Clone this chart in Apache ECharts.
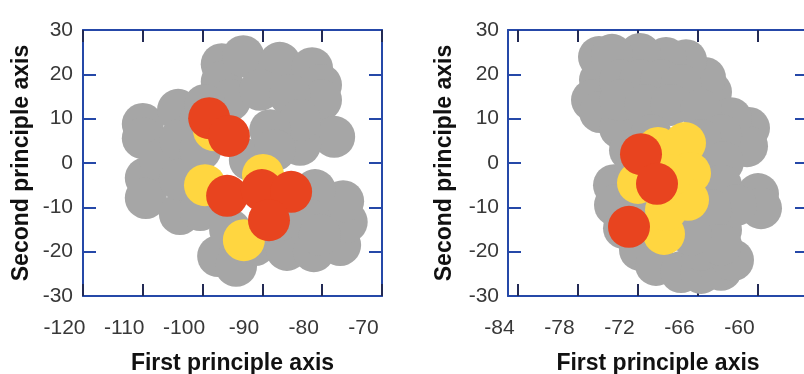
<!DOCTYPE html>
<html>
<head>
<meta charset="utf-8">
<script src="https://cdn.jsdelivr.net/npm/echarts@6/dist/echarts.min.js"></script>
<style>
  html, body { margin: 0; padding: 0; background: #fff; }
  #chart { width: 804px; height: 374px; }
</style>
</head>
<body>
<div id="chart"></div>
<script>
// left panel: cluster of gray, yellow and red circles
var leftGray = [
    [-110.0, 8.8], [-110.0, 5.6], [-104.1, 12.0], [-96.8, 22.3], [-96.8, 18.3], [-93.2, 24.1],
    [-87.1, 22.6], [-81.7, 21.4], [-80.2, 17.6], [-80.2, 14.2], [-78.0, 5.9], [-109.5, -3.4],
    [-109.5, -7.9], [-103.8, -11.5], [-97.4, -21.0], [-94.4, -23.2], [-91.2, -18.5], [-85.9, -19.6],
    [-81.4, -19.9], [-77.0, -18.5], [-75.9, -13.3], [-76.5, -8.6], [-81.2, -6.1], [-83.7, 4.1],
    [-107.1, 0.7], [-103.8, 5.2], [-103.8, -3.8], [-100.4, 9.7], [-100.4, 2.9], [-100.4, -10.6],
    [-95.4, 14.2], [-99.6, 13.1], [-90.4, 16.5], [-85.4, 15.3], [-83.7, 9.7], [-88.7, 7.4],
    [-92.1, 0.7], [-87.9, 2.9], [-95.4, -15.1], [-87.1, -12.9], [-82.0, -12.9], [-80.4, -16.2]
];
var leftYellow = [[-98.1, 7.4], [-99.6, -5.0], [-89.9, -2.7], [-93.1, -17.4]];
var leftRed = [[-98.9, 10.1], [-95.6, 6.1], [-95.9, -7.4], [-90.1, -6.1], [-85.2, -6.5], [-88.9, -12.9]];

// right panel
var rightGray = [
    [-75.9, 23.9], [-75.8, 18.7], [-76.6, 14.2], [-75.8, 11.5], [-73.8, 7.9], [-72.8, 2.9],
    [-74.4, -5.0], [-74.3, -9.5], [-73.4, -14.7], [-71.8, -19.6], [-70.2, -23.0], [-67.7, -24.6],
    [-65.7, -24.8], [-63.7, -24.1], [-62.5, -21.9], [-60.0, -7.0], [-59.7, -10.2], [-60.9, 7.9],
    [-61.1, 3.8], [-64.7, 16.0], [-65.3, 19.2], [-67.2, 23.2], [-69.2, 23.7], [-71.8, 24.6],
    [-74.6, 24.4], [-62.7, 10.1],
    [-73.8, 18.7], [-71.8, 18.7], [-69.7, 18.7], [-67.7, 17.6], [-73.8, 14.2], [-71.3, 13.1],
    [-68.7, 13.1], [-65.7, 12.0], [-63.7, 6.3], [-70.7, 6.3], [-65.7, 5.2], [-63.5, 0.2],
    [-63.7, -5.0], [-62.2, -9.5], [-63.7, -15.1], [-65.7, -19.6], [-64.7, -10.6], [-71.8, -8.3],
    [-72.3, -1.6], [-63.7, -18.5], [-66.7, -16.2]
];
var rightYellow = [[-70.0, 3.4], [-67.3, 4.5], [-66.8, -2.3], [-67.0, -8.3], [-69.4, -16.0],
    [-72.0, -4.5], [-69.2, -10.6], [-68.7, -2.7]];
var rightRed = [[-71.7, 2.0], [-70.1, -4.7], [-72.9, -14.4]];

var rightXTicks = [-84, -78, -72, -66, -60];

var blue = '#2548a8';
var font = "'Liberation Sans', Arial, sans-serif";

function xAx(grid, pos, min, max, opts) {
    var a = {
        type: 'value', gridIndex: grid, position: pos, min: min, max: max,
        splitLine: {show: false},
        axisLine: {show: true, onZero: false, lineStyle: {color: blue, width: 2}},
        axisTick: {show: true, inside: true, length: 12, lineStyle: {color: '#222a55', width: 2}},
        axisLabel: {show: false}
    };
    return Object.assign(a, opts || {});
}
function yAx(grid, pos, opts) {
    var a = {
        type: 'value', gridIndex: grid, position: pos, min: -30, max: 30, interval: 10,
        splitLine: {show: false},
        axisLine: {show: true, onZero: false, lineStyle: {color: blue, width: 2}},
        axisTick: {show: true, inside: true, length: 13, lineStyle: {color: blue, width: 2}},
        axisLabel: {show: false}
    };
    return Object.assign(a, opts || {});
}
var xLabel = {show: true, color: '#383838', fontSize: 21, fontFamily: font, margin: 22,
    padding: [0, 37, 0, 0], showMinLabel: true, showMaxLabel: true};
var xName = {name: 'First principle axis', nameLocation: 'middle', nameGap: 56,
    nameTextStyle: {color: '#111', fontSize: 23, fontWeight: 'bold', fontFamily: font}};
var yName = {name: 'Second principle axis', nameLocation: 'middle', nameGap: 50,
    nameTextStyle: {color: '#111', fontSize: 23, fontWeight: 'bold', fontFamily: font}};

// each point is a filled disc of 21px radius, placed through the axis scales
function dots(data, color, xi, yi) {
    return {
        type: 'custom', xAxisIndex: xi, yAxisIndex: yi, data: data, silent: true,
        renderItem: function (params, api) {
            var p = api.coord([api.value(0), api.value(1)]);
            return {
                type: 'circle',
                shape: {cx: p[0], cy: p[1], r: 21},
                style: {fill: color, stroke: null, lineWidth: 0}
            };
        }
    };
}

var myChart = echarts.init(document.getElementById('chart'), null, {renderer: 'canvas'});
var option = {
    animation: false,
    backgroundColor: '#fff',
    grid: [
        {left: 83, top: 30, width: 299, height: 266, containLabel: false, outerBoundsMode: 'none'},
        {left: 508, top: 30, width: 300, height: 266, containLabel: false, outerBoundsMode: 'none'}
    ],
    xAxis: [
        xAx(0, 'bottom', -120, -70, Object.assign({interval: 10, axisLabel: xLabel}, xName)),
        xAx(0, 'top', -120, -70, {interval: 10}),
        xAx(1, 'bottom', -85, -55, Object.assign({
            axisTick: {show: true, inside: true, length: 12, customValues: rightXTicks, lineStyle: {color: '#222a55', width: 2}},
            axisLabel: Object.assign({customValues: rightXTicks}, xLabel)
        }, xName)),
        xAx(1, 'top', -85, -55, {
            axisTick: {show: true, inside: true, length: 12, customValues: rightXTicks, lineStyle: {color: '#222a55', width: 2}}
        })
    ],
    yAxis: [
        yAx(0, 'left', Object.assign({axisLabel: {show: true, color: '#383838', fontSize: 21, fontFamily: font, margin: 10}}, yName)),
        yAx(0, 'right'),
        yAx(1, 'left', Object.assign({axisLabel: {show: true, color: '#383838', fontSize: 21, fontFamily: font, margin: 9}},
            Object.assign({}, yName, {nameGap: 52}))),
        yAx(1, 'right')
    ],
    series: [
        dots(leftGray, '#a6a6a6', 0, 0),
        dots(leftYellow, '#ffd640', 0, 0),
        dots(leftRed, '#e8441f', 0, 0),
        dots(rightGray, '#a6a6a6', 2, 2),
        dots(rightYellow, '#ffd640', 2, 2),
        dots(rightRed, '#e8441f', 2, 2)
    ]
};
myChart.setOption(option);
window.addEventListener('resize', function () {
    myChart.resize();
});
</script>
</body>
</html>
